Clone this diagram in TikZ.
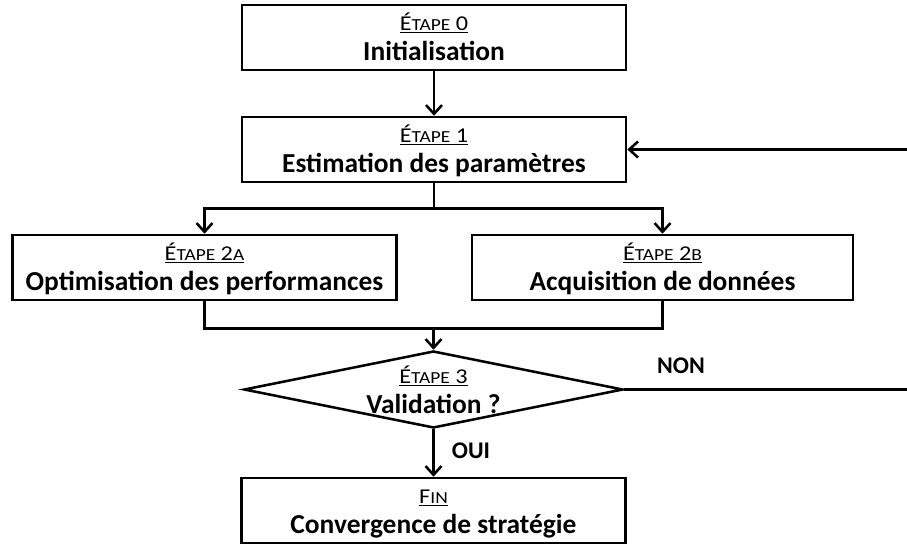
\documentclass[tikz,border=0pt]{standalone}
\usepackage{fontspec}
\setmainfont{Carlito}
\usepackage{tikz}
\usetikzlibrary{arrows.meta,shapes.geometric,calc}

% small-caps step label above the bold step name
\newcommand{\smc}[1]{{\fontsize{12}{13}\selectfont #1}}
\newcommand{\steplabel}[1]{{\mdseries\rule{0pt}{15pt}\scalebox{1.15}[1]{\underline{\fontsize{15}{16}\selectfont #1}}}}
\newcommand{\stepbody}[2]{\steplabel{#1}\\#2\rule[-3.9pt]{0pt}{0pt}}

\begin{document}
\begin{tikzpicture}[x=0.025cm, y=-0.025cm,
    line width=1.8pt,
    stagebox/.style={rectangle, draw, minimum width=9.6cm, minimum height=1.625cm,
      inner sep=0pt, align=center, font=\fontsize{19.5}{21.5}\selectfont\bfseries},
    flow/.style={-{Straight Barb[length=2.2mm, width=4mm, line width=1.8pt]}},
    answer/.style={font=\fontsize{17}{19}\selectfont\bfseries}]
    \useasboundingbox (0,0) rectangle (907,545);

    % Steps
    \node[stagebox] (init) at (434, 37.5) {\stepbody{É\smc{TAPE} 0}{Initialisation}};
    \node[stagebox] (estim) at (434, 149.5) {\stepbody{É\smc{TAPE} 1}{Estimation des paramètres}};
    \node[stagebox] (optim) at (204.5, 267.5) {\stepbody{É\smc{TAPE} 2\smc{A}}{Optimisation des performances}};
    \node[stagebox, minimum width=9.525cm] (acqui) at (662.5, 267.5) {\stepbody{É\smc{TAPE} 2\smc{B}}{Acquisition de données}};
    \node[diamond, draw, minimum width=9.475cm, minimum height=1.925cm, inner sep=0pt] (valid) at (433.5, 389.5) {};
    \node[align=center, inner sep=0pt, font=\fontsize{19.5}{21.5}\selectfont\bfseries] (validtxt) at (433.5, 390.5) {\stepbody{É\smc{TAPE} 3}{Validation ?}};
    \node[stagebox] (fin) at (433.5, 510.5) {\stepbody{F\smc{IN}}{Convergence de stratégie}};

    % Links
    \coordinate (split) at ($(estim.south)+(0,25)$);
    \coordinate (join) at ($(optim.south)!0.5!(acqui.south)+(0,27)$);
    \coordinate (nonend) at (907, 389.5);
    \coordinate (backin) at (907, 149.5);

    \draw[flow] (init) -- (estim);
    \draw (estim.south) -- (split);
    \draw[flow] (split) -| (optim.north);
    \draw[flow] (split) -| (acqui.north);
    \draw (optim.south) |- (join);
    \draw (acqui.south) |- (join);
    \draw[flow] (join) -- (valid.north);
    \draw[flow] (valid.south) -- (fin.north);
    \draw (valid.east) -- (nonend);
    \draw[flow] (backin) -- (estim.east);

    \node[answer] (non) at (681, 366) {NON};
    \node[answer] (oui) at (471, 451) {OUI};
\end{tikzpicture}
\end{document}
